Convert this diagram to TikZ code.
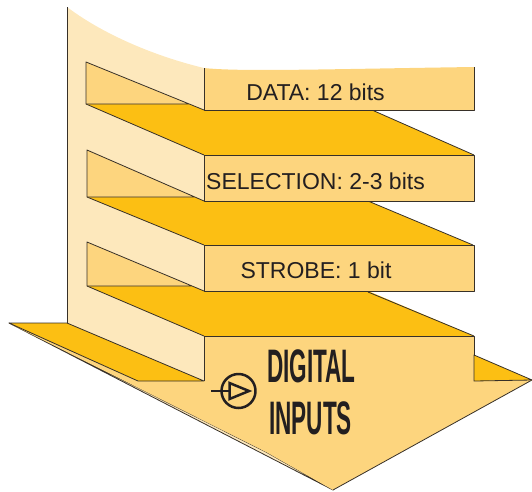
\documentclass[tikz,border=0pt]{standalone}
\usepackage{fontspec}
\setmainfont{Liberation Sans}
\usepackage{graphicx}
\definecolor{pale}{RGB}{253,232,188}
\definecolor{mid}{RGB}{253,213,126}
\definecolor{yel}{RGB}{252,191,19}
\definecolor{edge}{RGB}{55,48,40}
\definecolor{ink}{RGB}{35,31,32}
\begin{document}
\begin{tikzpicture}[x=1pt,y=-1pt,line join=round,
  ln/.style={draw=edge,line width=0.8pt},
  lbl/.style={inner sep=0pt,anchor=base,text=ink,font=\fontsize{23}{23}\selectfont},
  big/.style={inner sep=0pt,anchor=base west,text=ink,font=\fontsize{47}{47}\selectfont\bfseries},
  sym/.style={draw=ink,line width=2.5pt}]
\useasboundingbox (0,0) rectangle (532,491);

% back wall
\fill[pale] (67,7) .. controls (100,32) and (150,55) .. (204,68) -- (204,381) -- (67,323) -- cycle;
\draw[ln] (67,7) -- (67,323);

% yellow top faces of the steps
\fill[yel] (86,104) -- (189,104) -- (204,110) -- (372,110) -- (474,155) -- (204,155) -- cycle;
\draw[ln] (86,104) -- (204,155);
\draw[ln] (372,110) -- (474,155);
\fill[yel] (87,197) -- (195,197) -- (204,201) -- (368,201) -- (473,245) -- (204,245) -- cycle;
\draw[ln] (87,197) -- (204,245);
\draw[ln] (368,201) -- (473,245);
\fill[yel] (87,286) -- (192,286) -- (204,291) -- (368,291) -- (474,336) -- (204,336) -- cycle;
\draw[ln] (87,286) -- (204,336);
\draw[ln] (368,292) -- (474,336);

% side triangles
\fill[mid] (86,62) -- (86,104) -- (189,104) -- cycle;
\draw[ln] (204,110) -- (86,62) -- (86,104) -- (189,104);
\fill[mid] (87,150) -- (87,197) -- (195,197) -- cycle;
\draw[ln] (204,201) -- (87,150) -- (87,197) -- (195,197);
\fill[mid] (87,242) -- (87,286) -- (192,286) -- cycle;
\draw[ln] (204,291) -- (87,242) -- (87,286) -- (192,286);

% front faces
\fill[mid] (204,68) .. controls (240,72) and (330,69) .. (474,67) -- (474,110) -- (204,110) -- cycle;
\draw[ln] (474,67) -- (474,110) -- (204,110) -- (204,68);
\filldraw[fill=mid,ln] (204,155) rectangle (474,201);
\filldraw[fill=mid,ln] (204,245) rectangle (474,291);

% arrow head
\filldraw[fill=pale,ln] (9,323) -- (333,490) -- (266,452) -- cycle;
\fill[mid] (9,323) -- (266,452) -- (333,490) -- (532,380) -- (474,381) -- (474,336) -- (204,336) -- (204,381) -- (138,381) -- cycle;
\draw[ln] (204,381) -- (204,336) -- (474,336) -- (474,381);
\draw[ln] (333,490) -- (532,380);
\filldraw[fill=yel,ln] (9,323) -- (67,323) -- (204,381) -- (138,381) -- cycle;
\filldraw[fill=yel,ln] (474,355) -- (532,380) -- (474,381) -- cycle;

% input symbol
\draw[sym] (238.5,391) circle (17pt);
\draw[sym,line join=miter] (229.5,383) -- (249,391) -- (229.5,399) -- cycle;
\draw[sym] (211,391) -- (229.5,391);

% labels
\node[lbl] (data) at (315.5,100) {DATA: 12 bits};
\node[lbl] (sel) at (315.5,189) {SELECTION: 2-3 bits};
\node[lbl] (strobe) at (316,278) {STROBE: 1 bit};
\node[big] (digital) at (267,382) {\scalebox{0.48}[1]{DIGITAL}};
\node[big] (inputs) at (269,434) {\scalebox{0.48}[1]{INPUTS}};
\end{tikzpicture}
\end{document}
